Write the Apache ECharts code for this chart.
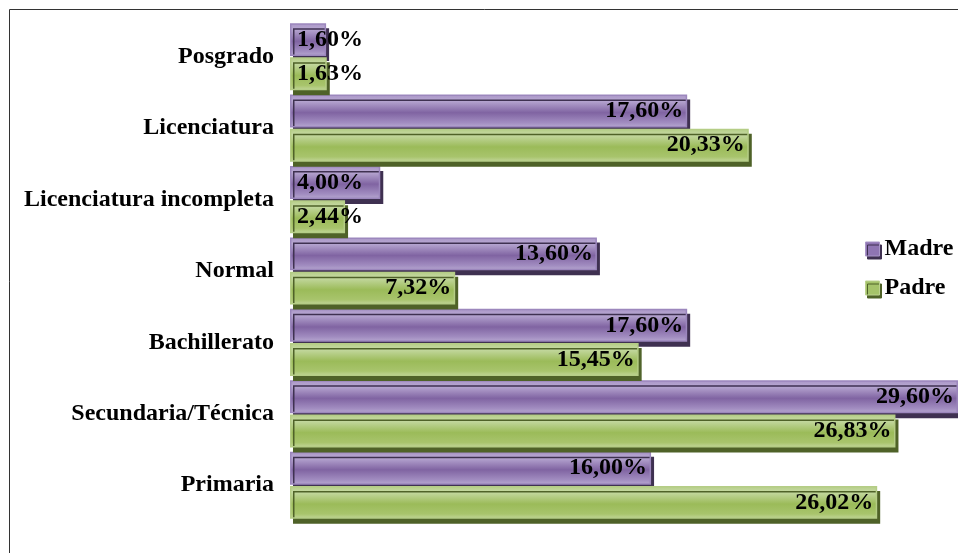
<!DOCTYPE html>
<html>
<head>
<meta charset="utf-8">
<script src="https://cdn.jsdelivr.net/npm/echarts@6/dist/echarts.min.js"></script>
<style>
html,body{margin:0;padding:0;background:#fff;}
#c{width:958px;height:553px;}
</style>
</head>
<body>
<div id="c"></div>
<script>
var categories = ['Posgrado','Licenciatura','Licenciatura incompleta','Normal','Bachillerato','Secundaria/Técnica','Primaria'];
var madre = [1.60, 17.60, 4.00, 13.60, 17.60, 29.60, 16.00];
var padre = [1.63, 20.33, 2.44, 7.32, 15.45, 26.83, 26.02];

var FONT = '"Liberation Serif", "Times New Roman", serif';

function grad(stops){
  return new echarts.graphic.LinearGradient(0,0,0,1, stops.map(function(s){return {offset:s[0], color:s[1]};}));
}
var madreGrad = grad([[0,'#a995c6'],[0.18,'#b8a8d2'],[0.55,'#8064a2'],[0.85,'#a18cc0'],[1,'#b7a8d0']]);
var padreGrad = grad([[0,'#b5cd86'],[0.18,'#c5d9a2'],[0.55,'#9bbb59'],[0.85,'#a8c46c'],[1,'#c3d69b']]);

function fmt(p){ return p.value.toFixed(2).replace('.', ',') + '%'; }
function toData(arr){
  return arr.map(function(v){
    if (v < 5) return {value:v, label:{position:'insideLeft', distance:7}};
    return v;
  });
}
var labelCfg = {show:true, position:'insideRight', distance:4, formatter:fmt, color:'#000', fontFamily:FONT, fontWeight:'bold', fontSize:24};

var chart = echarts.init(document.getElementById('c'));
chart.setOption({
  animation:false,
  backgroundColor:'#fff',
  graphic:[{type:'rect', z:-10, shape:{x:9.5, y:9.5, width:1000, height:1000}, style:{fill:'none', stroke:'#333', lineWidth:1}}],
  grid:{left:290, width:677, top:21, bottom:32, containLabel:false, outerBoundsMode:'none'},
  legend:{
    orient:'vertical', left:860, top:232, itemWidth:14, itemHeight:14, itemGap:15,
    icon:'rect',
    textStyle:{fontFamily:FONT, fontWeight:'bold', fontSize:24, color:'#000'},
    data:[
      {name:'Madre', itemStyle:{color:'#8f75b3', borderColor:'#a996c8', borderWidth:1, shadowColor:'#3f3151', shadowOffsetX:2, shadowOffsetY:3, shadowBlur:0}},
      {name:'Padre', itemStyle:{color:'#a5c36a', borderColor:'#bcd28f', borderWidth:1, shadowColor:'#4f6228', shadowOffsetX:2, shadowOffsetY:3, shadowBlur:0}}
    ]
  },
  xAxis:{type:'value', min:0, max:30, show:false, splitLine:{show:false}},
  yAxis:{
    type:'category', inverse:true, data:categories,
    axisLine:{show:false}, axisTick:{show:false},
    axisLabel:{margin:16, color:'#000', fontFamily:FONT, fontWeight:'bold', fontSize:24}
  },
  series:[
    {name:'Madre', type:'bar', data:toData(madre), barCategoryGap:'6%', barGap:'4%', clip:false,
     itemStyle:{color:madreGrad, borderColor:'#9c87bd', borderWidth:1.5, shadowColor:'#3f3151', shadowOffsetX:3, shadowOffsetY:5, shadowBlur:0},
     label:labelCfg},
    {name:'Padre', type:'bar', data:toData(padre), barCategoryGap:'6%', barGap:'4%', clip:false,
     itemStyle:{color:padreGrad, borderColor:'#b5cd86', borderWidth:1.5, shadowColor:'#4f6228', shadowOffsetX:3, shadowOffsetY:5, shadowBlur:0},
     label:labelCfg}
  ]
});
</script>
</body>
</html>
